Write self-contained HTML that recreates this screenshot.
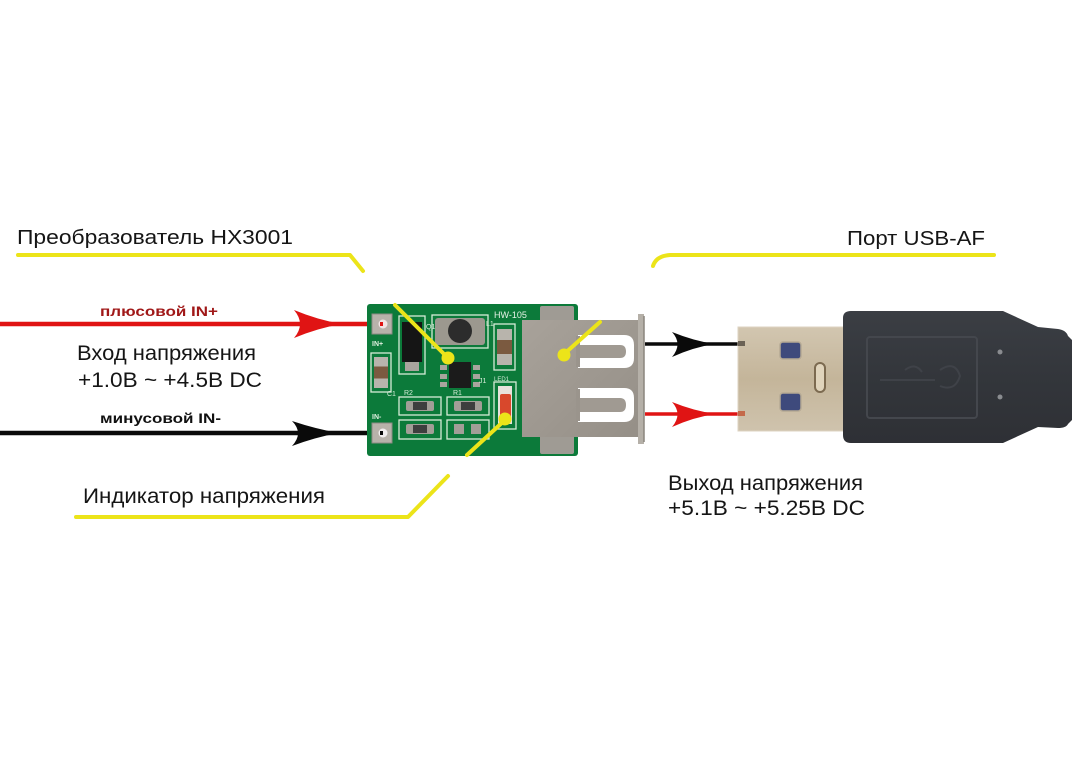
<!DOCTYPE html>
<html>
<head>
<meta charset="utf-8">
<style>
  html,body{margin:0;padding:0;background:#fff;}
  svg{display:block;}
  text{font-family:"Liberation Sans","DejaVu Sans",sans-serif;}
</style>
</head>
<body>
<svg width="1072" height="766" viewBox="0 0 1072 766" xmlns="http://www.w3.org/2000/svg">
  <defs>
    <linearGradient id="metal" x1="0" y1="0" x2="0" y2="1">
      <stop offset="0" stop-color="#d2c6b0"/>
      <stop offset="0.5" stop-color="#c4b59a"/>
      <stop offset="1" stop-color="#cfc3ad"/>
    </linearGradient>
    <linearGradient id="recep" x1="0" y1="0" x2="1" y2="1">
      <stop offset="0" stop-color="#a8a29a"/>
      <stop offset="1" stop-color="#958f87"/>
    </linearGradient>
    <linearGradient id="plug" x1="0" y1="0" x2="0" y2="1">
      <stop offset="0" stop-color="#3b3e44"/>
      <stop offset="0.5" stop-color="#33363b"/>
      <stop offset="1" stop-color="#2e3035"/>
    </linearGradient>
    <linearGradient id="cap" x1="0" y1="0" x2="0" y2="1">
      <stop offset="0" stop-color="#b8b4ac"/>
      <stop offset="0.3" stop-color="#b8b4ac"/>
      <stop offset="0.3" stop-color="#7b5a40"/>
      <stop offset="0.7" stop-color="#7b5a40"/>
      <stop offset="0.7" stop-color="#b8b4ac"/>
      <stop offset="1" stop-color="#b8b4ac"/>
    </linearGradient>
  </defs>

  <rect width="1072" height="766" fill="#fff"/>

  <!-- Labels -->
  <text x="17" y="244" font-size="20" fill="#151515" textLength="276" lengthAdjust="spacingAndGlyphs">Преобразователь HX3001</text>
  <text x="847" y="245" font-size="20" fill="#151515" textLength="138" lengthAdjust="spacingAndGlyphs">Порт USB-AF</text>
  <text x="100" y="316" font-size="14" font-weight="bold" fill="#a01818" textLength="118" lengthAdjust="spacingAndGlyphs">плюсовой IN+</text>
  <text x="77" y="360" font-size="21" fill="#151515" textLength="179" lengthAdjust="spacingAndGlyphs">Вход напряжения</text>
  <text x="78" y="387" font-size="21" fill="#151515" textLength="184" lengthAdjust="spacingAndGlyphs">+1.0В ~ +4.5В DC</text>
  <text x="100" y="423" font-size="14" font-weight="bold" fill="#111" textLength="121" lengthAdjust="spacingAndGlyphs">минусовой IN-</text>
  <text x="83" y="503" font-size="21" fill="#151515" textLength="242" lengthAdjust="spacingAndGlyphs">Индикатор напряжения</text>
  <text x="668" y="490" font-size="21" fill="#151515" textLength="195" lengthAdjust="spacingAndGlyphs">Выход напряжения</text>
  <text x="668" y="515" font-size="21" fill="#151515" textLength="197" lengthAdjust="spacingAndGlyphs">+5.1В ~ +5.25В DC</text>

  <!-- Yellow callout lines -->
  <g fill="none" stroke="#ece419" stroke-width="4" stroke-linecap="round" stroke-linejoin="round">
    <path d="M18,255 L350,255 L363,271"/>
    <path d="M653,266 Q656,256 670,255 L994,255"/>
    <path d="M76,517 L408,517 L448,476"/>
  </g>

  <!-- Input wires -->
  <line x1="0" y1="324" x2="383" y2="324" stroke="#e01414" stroke-width="4.5"/>
  <line x1="0" y1="433" x2="383" y2="433" stroke="#0a0a0a" stroke-width="4.5"/>
  <path d="M294,310 Q318,320 342,324 Q318,328 294,338 Q306,324 294,310 Z" fill="#e01414"/>
  <path d="M292,421 Q316,429 339,433 Q316,437 292,446 Q304,433 292,421 Z" fill="#0a0a0a"/>

  <!-- Output wires -->
  <line x1="645" y1="344" x2="740" y2="344" stroke="#0a0a0a" stroke-width="3.5"/>
  <line x1="645" y1="414" x2="740" y2="414" stroke="#e01414" stroke-width="3.5"/>
  <path d="M672,332 Q694,341 715,344 Q694,347 672,357 Q683,344 672,332 Z" fill="#0a0a0a"/>
  <path d="M672,402 Q694,411 716,414 Q694,417 672,427 Q683,414 672,402 Z" fill="#e01414"/>

  <!-- PCB -->
  <rect x="367" y="304" width="211" height="152" rx="3" fill="#0c7a3a"/>
  <g fill="none" stroke="#d6ecd8" stroke-width="1.3">
    <rect x="399" y="316" width="26" height="58"/>
    <rect x="432" y="315" width="56" height="33"/>
    <rect x="371" y="353" width="20" height="39"/>
    <rect x="494" y="324" width="21" height="46"/>
    <rect x="494" y="382" width="22" height="47"/>
    <rect x="399" y="397" width="42" height="18"/>
    <rect x="447" y="397" width="42" height="18"/>
    <rect x="399" y="420" width="42" height="19"/>
    <rect x="447" y="420" width="42" height="19"/>
  </g>
  <!-- pads -->
  <rect x="372" y="314" width="20" height="20" fill="#b7b2aa" stroke="#8e8a84"/>
  <circle cx="383" cy="324" r="4.5" fill="#f1e4e4"/>
  <rect x="372" y="423" width="20" height="20" fill="#b7b2aa" stroke="#8e8a84"/>
  <circle cx="383" cy="433" r="4.5" fill="#f1eeee"/>
  <line x1="380" y1="324" x2="383" y2="324" stroke="#e01414" stroke-width="4"/>
  <line x1="380" y1="433" x2="383" y2="433" stroke="#0a0a0a" stroke-width="4"/>
  <text x="372" y="346" font-size="7" font-weight="bold" fill="#e0f0e0">IN+</text>
  <text x="372" y="419" font-size="7" font-weight="bold" fill="#e0f0e0">IN-</text>
  <!-- diode -->
  <rect x="402" y="322" width="20" height="40" fill="#151515"/>
  <rect x="405" y="362" width="14" height="9" fill="#a9a59e"/>
  <text x="426" y="329" font-size="7" fill="#d6ecd8">Q1</text>
  <!-- inductor -->
  <rect x="435" y="318" width="50" height="27" rx="3" fill="#9c988f"/>
  <circle cx="460" cy="331" r="12" fill="#2c2c2c"/>
  <text x="486" y="326" font-size="7" fill="#d6ecd8">L1</text>
  <!-- C1 -->
  <rect x="374" y="357" width="14" height="31" fill="url(#cap)"/>
  <text x="387" y="396" font-size="7" fill="#d6ecd8">C1</text>
  <!-- IC -->
  <rect x="449" y="362" width="22" height="26" fill="#1b1b1b"/>
  <g fill="#a9a59e">
    <rect x="440" y="365" width="7" height="5"/><rect x="440" y="374" width="7" height="5"/><rect x="440" y="382" width="7" height="5"/>
    <rect x="473" y="365" width="7" height="5"/><rect x="473" y="374" width="7" height="5"/><rect x="473" y="382" width="7" height="5"/>
  </g>
  <text x="479" y="383" font-size="7" fill="#d6ecd8">J1</text>
  <!-- C2 -->
  <rect x="497" y="329" width="15" height="36" fill="url(#cap)"/>
  <text x="494" y="318" font-size="9" fill="#e6f2e6">HW-105</text>
  <!-- LED -->
  <rect x="498" y="386" width="14" height="38" fill="#e8e2dc"/>
  <rect x="500" y="394" width="11" height="26" rx="2" fill="#d8482c"/>
  <text x="494" y="381" font-size="6" fill="#d6ecd8">LED1</text>
  <!-- resistors -->
  <text x="404" y="395" font-size="7" fill="#d6ecd8">R2</text>
  <text x="453" y="395" font-size="7" fill="#d6ecd8">R1</text>
  <rect x="406" y="401" width="28" height="10" rx="2" fill="#a29e97"/>
  <rect x="413" y="402" width="14" height="8" fill="#3e3e3e"/>
  <rect x="454" y="401" width="28" height="10" rx="2" fill="#a29e97"/>
  <rect x="461" y="402" width="14" height="8" fill="#3e3e3e"/>
  <rect x="406" y="424" width="28" height="10" rx="2" fill="#a29e97"/>
  <rect x="413" y="425" width="14" height="8" fill="#3e3e3e"/>
  <rect x="454" y="424" width="10" height="10" fill="#a29e97"/>
  <rect x="471" y="424" width="10" height="10" fill="#a29e97"/>
  <!-- gray pads near receptacle -->
  <rect x="540" y="306" width="34" height="16" rx="2" fill="#9f9b94"/>
  <rect x="540" y="434" width="34" height="20" rx="2" fill="#9f9b94"/>

  <!-- USB receptacle -->
  <rect x="522" y="320" width="118" height="117" fill="url(#recep)"/>
  <rect x="638" y="314" width="6" height="130" fill="#b5b0a8"/>
  <line x1="644" y1="316" x2="644" y2="442" stroke="#8a857e" stroke-width="1.5"/>
  <!-- slots -->
  <path d="M578,335 L624,335 Q634,335 634,345 L634,358 Q634,368 624,368 L578,368 Z" fill="#ffffff"/>
  <path d="M578,345 L620,345 Q626,345 626,351.5 Q626,358 620,358 L578,358 Z" fill="#a09a92"/>
  <path d="M578,388 L624,388 Q634,388 634,398 L634,412 Q634,422 624,422 L578,422 Z" fill="#ffffff"/>
  <path d="M578,398 L620,398 Q626,398 626,405 Q626,412 620,412 L578,412 Z" fill="#a09a92"/>
  <rect x="576" y="336" width="4" height="31" fill="#9a948c"/>
  <rect x="576" y="389" width="4" height="32" fill="#9a948c"/>

  <!-- Yellow pointers on board -->
  <g stroke="#ece419" stroke-width="4" stroke-linecap="round" fill="none">
    <line x1="395" y1="305" x2="448" y2="358"/>
    <line x1="600" y1="322" x2="563" y2="355"/>
    <line x1="505" y1="420" x2="467" y2="455"/>
  </g>
  <g fill="#ece419">
    <circle cx="448" cy="358" r="6.5"/>
    <circle cx="564" cy="355" r="6.5"/>
    <circle cx="505" cy="419" r="6.5"/>
  </g>

  <!-- USB plug metal -->
  <rect x="738" y="327" width="108" height="104" fill="url(#metal)"/>
  <rect x="738" y="327" width="108" height="104" fill="none" stroke="#ddd3c2" stroke-width="1"/>
  <rect x="780" y="342" width="21" height="17" rx="3" fill="#3e4a7c" stroke="#b5a994" stroke-width="1.5"/>
  <rect x="780" y="393" width="21" height="18" rx="3" fill="#3e4a7c" stroke="#b5a994" stroke-width="1.5"/>
  <rect x="815" y="363" width="10" height="29" rx="5" fill="#e0d4bc" stroke="#7c6a50" stroke-width="2"/>
  <rect x="738" y="341" width="7" height="5" fill="#6b6255"/>
  <rect x="738" y="411" width="7" height="5" fill="#c46a4a"/>

  <!-- USB plug body -->
  <path d="M843,318 Q843,311 851,311 L1003,311 L1038,327 L1058,329 Q1066,330 1068,336 L1072,340 L1072,420 L1068,424 Q1066,428 1058,428 L1038,427 L1003,443 L851,443 Q843,443 843,435 Z" fill="url(#plug)"/>
  <rect x="867" y="337" width="110" height="81" rx="3" fill="none" stroke="#44474d" stroke-width="2"/>
  <circle cx="1000" cy="352" r="2.5" fill="#8a8c90"/>
  <circle cx="1000" cy="397" r="2.5" fill="#8a8c90"/>
  <g fill="none" stroke="#3f4248" stroke-width="2">
    <path d="M880,380 L935,380"/>
    <path d="M905,370 Q915,362 922,372"/>
    <path d="M940,370 Q955,360 960,376 Q955,392 940,386"/>
  </g>
</svg>
</body>
</html>
